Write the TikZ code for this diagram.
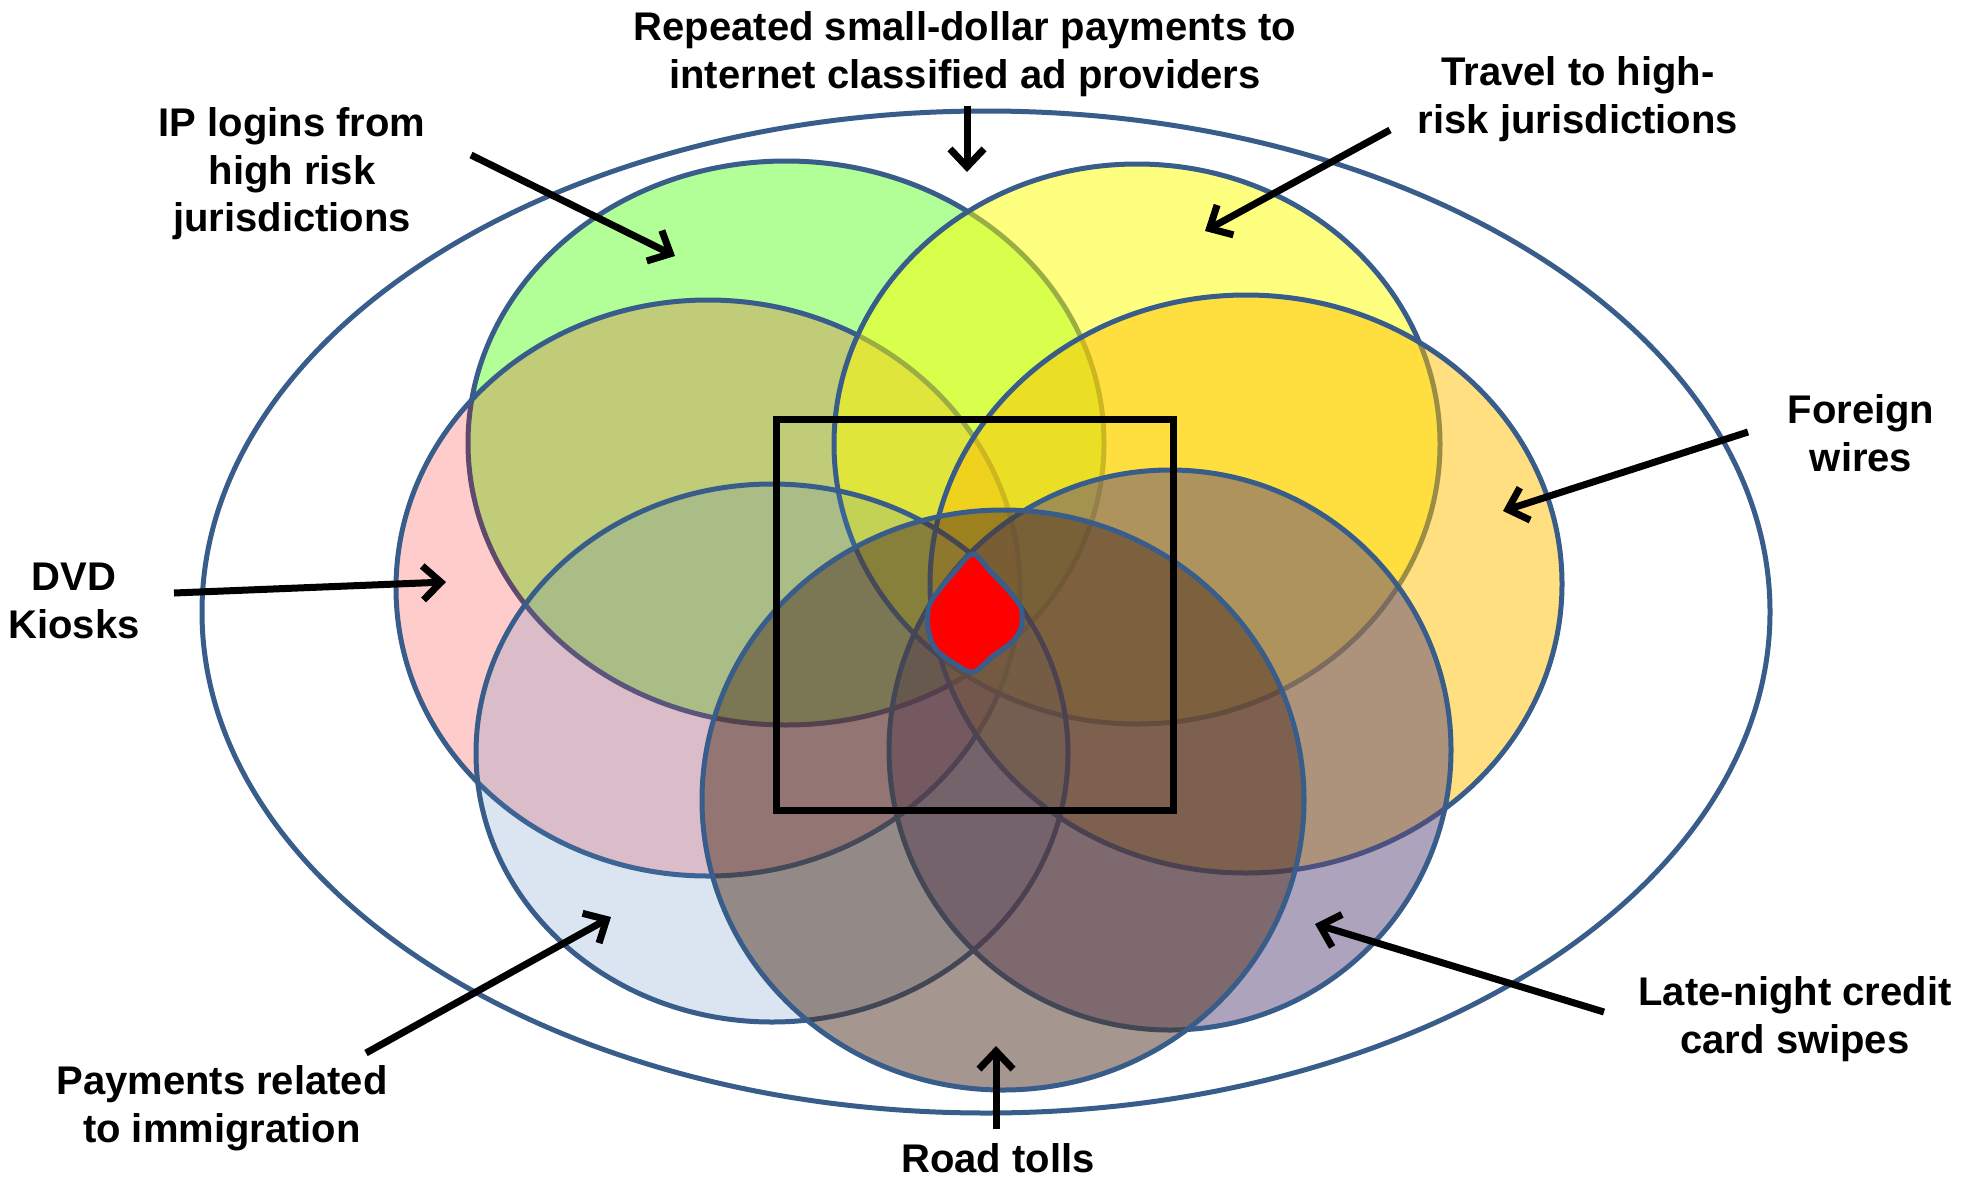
\documentclass[tikz,border=0pt]{standalone}
\usepackage{fontspec}
\setmainfont{Liberation Sans}
\usetikzlibrary{arrows.meta}
\definecolor{edge}{RGB}{56,93,138}
\definecolor{cgreen}{RGB}{102,255,51}
\definecolor{cyellow}{RGB}{255,255,0}
\definecolor{corange}{RGB}{255,192,0}
\definecolor{cpink}{RGB}{255,0,0}
\definecolor{cblue}{RGB}{79,129,189}
\definecolor{cpurple}{RGB}{95,73,122}
\definecolor{cbrown}{RGB}{77,49,33}
\begin{document}
\begin{tikzpicture}[x=1pt,y=-1pt,
  setell/.style={draw=edge,line width=5pt},
  lbl/.style={font=\fontsize{40}{47.5}\selectfont\bfseries,align=center,inner sep=0pt},
  ptr/.style={line width=7pt,-{Straight Barb[length=18pt,width=34pt]}}]
\useasboundingbox (0,0) rectangle (1970,1178);
\fill[white] (0,0) rectangle (1970,1178);
% outer set
\draw[edge,line width=5pt] (986,612) ellipse [x radius=784pt,y radius=501pt];
% sets
\filldraw[setell,fill=cgreen,fill opacity=0.5] (786,443) ellipse [x radius=318pt,y radius=282pt];
\filldraw[setell,fill=cpink,fill opacity=0.2] (708,588) ellipse [x radius=312pt,y radius=288pt];
\filldraw[setell,fill=cyellow,fill opacity=0.5] (1137,444) ellipse [x radius=303pt,y radius=280pt];
\filldraw[setell,fill=corange,fill opacity=0.5] (1246,584) ellipse [x radius=316pt,y radius=289pt];
\filldraw[setell,fill=cblue,fill opacity=0.2] (772,753) ellipse [x radius=296pt,y radius=269pt];
\filldraw[setell,fill=cpurple,fill opacity=0.5] (1170,750) ellipse [x radius=281pt,y radius=280pt];
\filldraw[setell,fill=cbrown,fill opacity=0.5] (1003,800) ellipse [x radius=301pt,y radius=290pt];
% focus square
\draw[black,line width=7pt] (776,419) rectangle (1173,810);
% red core
\filldraw[draw=edge,line width=5pt,fill=red] plot[smooth cycle,tension=0.5] coordinates {
 (973,554) (990,571) (1008,590) (1021,608) (1021,628) (1012,642) (993,656)
 (973,672) (952,662) (935,648) (928,628) (929,606) (940,589) (956,570)};
% labels
\node[lbl] (rep) at (965,54) {Repeated small-dollar payments to\\internet classified ad providers};
\node[lbl] (ip) at (292,174) {IP logins from\\high risk\\jurisdictions};
\node[lbl] (trav) at (1578,99) {Travel to high-\\risk jurisdictions};
\node[lbl] (fw) at (1861,433) {Foreign\\wires};
\node[lbl] (dvd) at (74,601) {DVD\\Kiosks};
\node[lbl] (pay) at (222,1108) {Payments related\\to immigration};
\node[lbl] (road) at (998,1158) {Road tolls};
\node[lbl] (late) at (1795,1019) {Late-night credit\\card swipes};
% arrow ends
\coordinate (repS) at (967,106);  \coordinate (repE) at (967,172);
\coordinate (ipS) at (471,155);   \coordinate (ipE) at (675,256);
\coordinate (travS) at (1390,130);\coordinate (travE) at (1205,231);
\coordinate (fwS) at (1748,432);  \coordinate (fwE) at (1503,511);
\coordinate (dvdS) at (174,593);  \coordinate (dvdE) at (446,582);
\coordinate (payS) at (366,1053); \coordinate (payE) at (611,917);
\coordinate (roadS) at (996,1129);\coordinate (roadE) at (996,1046);
\coordinate (lateS) at (1604,1012);\coordinate (lateE) at (1315,924);
\draw[ptr] (repS) -- (repE);
\draw[ptr] (ipS) -- (ipE);
\draw[ptr] (travS) -- (travE);
\draw[ptr] (fwS) -- (fwE);
\draw[ptr] (dvdS) -- (dvdE);
\draw[ptr] (payS) -- (payE);
\draw[ptr] (roadS) -- (roadE);
\draw[ptr] (lateS) -- (lateE);
\end{tikzpicture}
\end{document}
